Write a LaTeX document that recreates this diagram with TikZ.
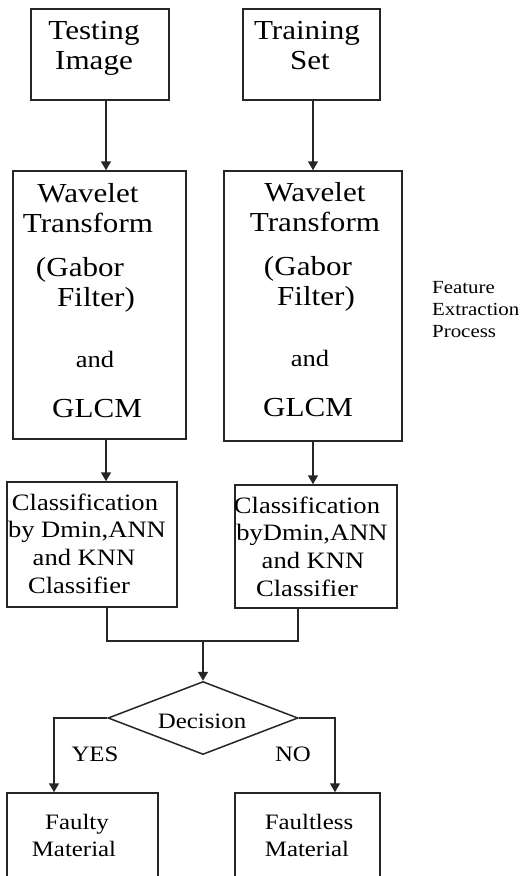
\documentclass[tikz,border=0pt]{standalone}
\usepackage{fontspec}
\setmainfont{Liberation Serif}[FakeStretch=1.13]
\usetikzlibrary{arrows.meta,shapes.geometric}
\begin{document}
\begin{tikzpicture}[x=1pt,y=-1pt,
  box/.style={draw=black!85,line width=1.5pt,inner sep=0pt},
  line/.style={draw=black!85,line width=1.5pt},
  arr/.style={line,-{Triangle[length=9pt,width=10pt]}},
  big/.style={font=\fontsize{27.5}{30}\selectfont,anchor=base,inner sep=0pt},
  mid/.style={font=\fontsize{23.5}{26}\selectfont,anchor=base,inner sep=0pt},
  sml/.style={font=\fontsize{22}{24}\selectfont,anchor=base,inner sep=0pt},
  note/.style={font=\fontsize{18.5}{22}\selectfont,anchor=base west,inner sep=0pt}]
\clip (0,0) rectangle (529,876);
\fill[white] (0,0) rectangle (529,876);
% boxes
\node[box,minimum width=138pt,minimum height=91pt] (ti) at (100,54.5) {};
\node[box,minimum width=137pt,minimum height=91pt] (ts) at (311.5,54.5) {};
\node[box,minimum width=173pt,minimum height=268pt] (wl) at (99.5,305) {};
\node[box,minimum width=178pt,minimum height=270pt] (wr) at (313,306) {};
\node[box,minimum width=170pt,minimum height=125pt] (cl) at (92,544.5) {};
\node[box,minimum width=162pt,minimum height=123pt] (cr) at (316,546.5) {};
\node[box,diamond,minimum width=190pt,minimum height=73pt] (dm) at (203,718) {};
\node[box,minimum width=151pt,minimum height=90pt] (fy) at (82.5,838) {};
\node[box,minimum width=145pt,minimum height=90pt] (fl) at (307.5,838) {};
% columns for connectors
\coordinate (cL) at (106,0);
\coordinate (cR) at (313,0);
\coordinate (jL) at (107,641);
\coordinate (jR) at (298,641);
\coordinate (jM) at (203,641);
\coordinate (bL) at (54,0);
\coordinate (bR) at (335,0);
% connectors
\draw[arr] (ti.south -| cL) -- (wl.north -| cL);
\draw[arr] (ts.south -| cR) -- (wr.north -| cR);
\draw[arr] (wl.south -| cL) -- (cl.north -| cL);
\draw[arr] (wr.south -| cR) -- (cr.north -| cR);
\draw[line] (cl.south -| jL) -- (jL) -- (jR) -- (cr.south -| jR);
\draw[arr] (jM) -- (dm.north);
\draw[arr] (dm.west) -- (dm.west -| bL) -- (fy.north -| bL);
\draw[arr] (dm.east) -- (dm.east -| bR) -- (fl.north -| bR);
% texts
\node[big] (t1) at (94,39) {Testing};
\node[big] (t2) at (94,69) {Image};
\node[big] (t3) at (307,39) {Training};
\node[big] (t4) at (310,69) {Set};
\node[big] (w1) at (88,202) {Wavelet};
\node[big] (w2) at (88,232) {Transform};
\node[big] (w3) at (80,276) {(Gabor};
\node[big] (w4) at (96,306) {Filter)};
\node[mid] (w5) at (95,367) {and};
\node[big] (w6) at (97,417) {GLCM};
\node[big] (v1) at (315,201) {Wavelet};
\node[big] (v2) at (315,231) {Transform};
\node[big] (v3) at (308,275) {(Gabor};
\node[big] (v4) at (316,305) {Filter)};
\node[mid] (v5) at (310,366) {and};
\node[big] (v6) at (308,416) {GLCM};
\node[note] (f1) at (432,293) {Feature};
\node[note] (f2) at (432,315) {Extraction};
\node[note] (f3) at (432,337) {Process};
\node[mid] (c1) at (85,510) {Classification};
\node[mid] (c2) at (87,537) {by Dmin,ANN};
\node[mid] (c3) at (84,565) {and KNN};
\node[mid] (c4) at (79,593) {Classifier};
\node[mid] (d1) at (307,513) {Classification};
\node[mid] (d2) at (312,540) {byDmin,ANN};
\node[mid] (d3) at (313,568) {and KNN};
\node[mid] (d4) at (307,596) {Classifier};
\node[sml] (dec) at (202,728) {Decision};
\node[sml] (yes) at (95,761) {YES};
\node[sml] (no) at (293,761) {NO};
\node[sml] (m1) at (77,829) {Faulty};
\node[sml] (m2) at (74,856) {Material};
\node[sml] (m3) at (309,829) {Faultless};
\node[sml] (m4) at (307,856) {Material};
\end{tikzpicture}
\end{document}
